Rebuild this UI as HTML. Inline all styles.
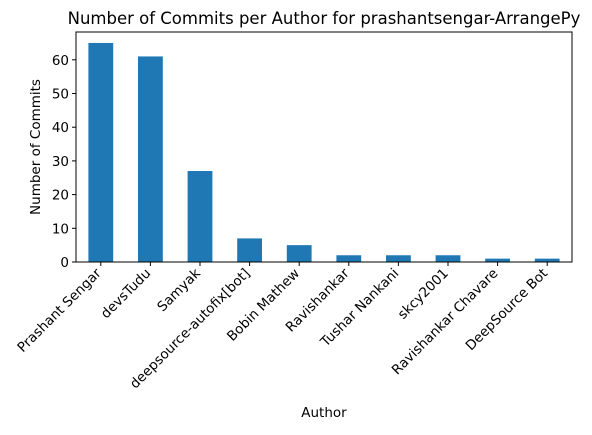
<!DOCTYPE html>
<html><head><meta charset="utf-8"><style>
body{margin:0;background:#fff;}
svg{font-family:"DejaVu Sans","Liberation Sans",sans-serif;}
</style></head><body>
<svg id="chart" width="592" height="430" viewBox="0 0 592 430">
<rect width="592" height="430" fill="#fff"/>
<text x="324" y="24" font-size="16.5" text-anchor="middle" fill="#000">Number of Commits per Author for prashantsengar-ArrangePy</text>
<g id="bars"></g>
<g id="xticks"></g>
<g id="yticks"></g>
<rect x="76" y="32" width="496" height="230" fill="none" stroke="#000" stroke-width="1"/>
<text x="324" y="417" font-size="13.5" text-anchor="middle">Author</text>
<text transform="translate(40,147) rotate(-90)" font-size="13.5" text-anchor="middle">Number of Commits</text>
</svg>
<script>
const categories=["Prashant Sengar","devsTudu","Samyak","deepsource-autofix[bot]","Bobin Mathew","Ravishankar","Tushar Nankani","skcy2001","Ravishankar Chavare","DeepSource Bot"];
const commits=[65,61,27,7,5,2,2,2,1,1];
const yTicks=[0,10,20,30,40,50,60];
const ns="http://www.w3.org/2000/svg";
const L=76,R=572,T=32,B=262;
const yMax=Math.max(...commits)*1.05;
const y=v=>B-(v/yMax)*(B-T);
const band=(R-L)/categories.length;
const x=i=>L+band*(i+0.5);
const bars=document.getElementById('bars'),xt=document.getElementById('xticks'),yt=document.getElementById('yticks');
function mk(t,a){const e=document.createElementNS(ns,t);for(const k in a)e.setAttribute(k,a[k]);return e;}
categories.forEach((c,i)=>{
  const r=mk('rect',{x:x(i)-band*0.25,y:y(commits[i]),width:band*0.5,height:B-y(commits[i]),fill:'#1f77b4'});
  
  
  bars.appendChild(r);
  const tk=mk('line',{x1:x(i),x2:x(i),y1:B,y2:B+4,stroke:'#000'});
  
  
  xt.appendChild(tk);
  const tx=mk('text',{transform:`translate(${x(i)+1},${B+12}) rotate(-45)`,'font-size':'13.5','text-anchor':'end'});
  tx.textContent=c;
  
  
  xt.appendChild(tx);
});
yTicks.forEach(v=>{
  const tk=mk('line',{x1:L-4,x2:L,y1:y(v),y2:y(v),stroke:'#000'});
  
  
  yt.appendChild(tk);
  const tx=mk('text',{x:L-7,y:y(v)+5,'font-size':'13.5','text-anchor':'end'});
  tx.textContent=v;
  
  
  yt.appendChild(tx);
});
</script>
</body></html>
